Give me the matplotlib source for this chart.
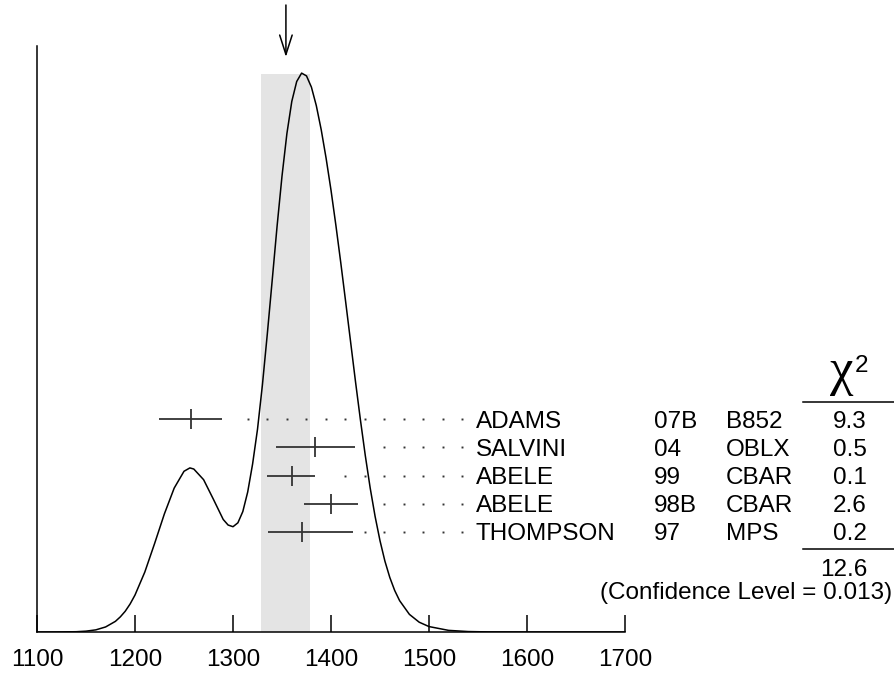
import numpy as np
import matplotlib
matplotlib.use("Agg")
import matplotlib.pyplot as plt
from matplotlib.transforms import blended_transform_factory

# measurements (ideogram rows, top to bottom)
authors = ["ADAMS", "SALVINI", "ABELE", "ABELE", "THOMPSON"]
years = ["07B", "04", "99", "98B", "97"]
techs = ["B852", "OBLX", "CBAR", "CBAR", "MPS"]
values = [1257, 1384, 1360, 1400, 1370]
err_lo = [33, 40, 25, 28, 34]
err_hi = [32, 40, 24, 28, 52]
chi2 = ["9.3", "0.5", "0.1", "2.6", "0.2"]
chi2_total = "12.6"
conf_level = "0.013"
avg, avg_err = 1354, 25

# ideogram curve (peak = 1)
curve_x = [1100, 1120, 1140, 1150, 1160, 1170, 1180, 1185, 1190, 1195,
           1200, 1210, 1220, 1230, 1240, 1250, 1256, 1260, 1270, 1280,
           1290, 1295, 1300, 1305, 1310, 1315, 1320, 1325, 1330, 1335,
           1340, 1345, 1350, 1355, 1360, 1365, 1370, 1375, 1380, 1385,
           1390, 1395, 1400, 1405, 1410, 1415, 1420, 1425, 1430, 1435,
           1440, 1445, 1450, 1455, 1460, 1465, 1470, 1480, 1490, 1500,
           1520, 1540, 1560, 1600, 1700]
curve_y = [0.0, 0.0001, 0.0005, 0.0015, 0.0038, 0.009, 0.019, 0.027, 0.037, 0.050,
           0.066, 0.107, 0.158, 0.211, 0.257, 0.287, 0.293, 0.291, 0.272, 0.237,
           0.201, 0.191, 0.188, 0.195, 0.215, 0.250, 0.300, 0.362, 0.441, 0.532,
           0.628, 0.725, 0.814, 0.890, 0.9475, 0.983, 0.998, 0.993, 0.973, 0.940,
           0.897, 0.846, 0.789, 0.726, 0.659, 0.589, 0.518, 0.447, 0.379, 0.315,
           0.257, 0.2064, 0.163, 0.1266, 0.0974, 0.0741, 0.056, 0.0315, 0.0175, 0.0097,
           0.0029, 0.0008, 0.0002, 0.0, 0.0]

W, H = 895, 673
plt.rcParams["font.family"] = ["Liberation Sans", "DejaVu Sans"]
fs = 17.5
ink = "#333333"

fig = plt.figure(figsize=(W / 100, H / 100), dpi=100)
ax = fig.add_axes([37 / W, 41 / H, 588 / W, 586 / H])
ax.set_xlim(1100, 1700)
ax.set_ylim(0, 1.0464)
ax.axvspan(avg - avg_err, avg + avg_err, ymax=0.952, color="#e4e4e4", lw=0, zorder=0)
ax.plot(curve_x, curve_y, color="black", lw=1.1)
for s in ["top", "right"]:
    ax.spines[s].set_visible(False)
for s in ["left", "bottom"]:
    ax.spines[s].set_linewidth(1.1)
ax.set_xticks(range(1100, 1701, 100))
ax.tick_params(axis="x", direction="in", length=12.2, width=1.1, pad=12, labelsize=fs)
ax.set_yticks([])

# overlay in pixel units for the table
pix = fig.add_axes([0, 0, 1, 1])
pix.set_xlim(0, W)
pix.set_ylim(H, 0)
pix.axis("off")
bt = blended_transform_factory(ax.transData, pix.transData)

row0, dy = 419, 28.25
dot_ref, dot_step = 1534, 19.9
for i in range(len(authors)):
    y = row0 + i * dy
    v = values[i]
    pix.plot([v - err_lo[i], v + err_hi[i]], [y, y], color=ink, lw=1.3,
             solid_capstyle="butt", transform=bt)
    pix.plot([v, v], [y - 10, y + 10], color=ink, lw=1.3,
             solid_capstyle="butt", transform=bt)
    dots = dot_ref - dot_step * np.arange(25)
    dots = dots[dots > v + err_hi[i] + 12]
    pix.plot(dots, [y] * len(dots), "s", ms=1.4, mew=0, color=ink, transform=bt)
    yb = y + 8.5
    pix.text(476, yb, authors[i], fontsize=fs, va="baseline")
    pix.text(654, yb, years[i], fontsize=fs, va="baseline")
    pix.text(726, yb, techs[i], fontsize=fs, va="baseline")
    pix.text(867, yb, chi2[i], fontsize=fs, va="baseline", ha="right")

pix.text(842, 385, "χ", fontsize=38, family="Liberation Serif", ha="center", va="baseline")
pix.text(862, 372, "2", fontsize=fs, ha="center", va="baseline")
pix.plot([803, 895], [401.5, 401.5], color="black", lw=1.1)
pix.plot([803, 895], [549, 549], color="black", lw=1.1)
pix.text(867, 576.5, chi2_total, fontsize=fs, ha="right", va="baseline")
pix.text(892, 599, "(Confidence Level = %s)" % conf_level, fontsize=fs,
         ha="right", va="baseline")

# arrow at the weighted average
pix.annotate("", xy=(avg, 57), xytext=(avg, 5), xycoords=bt, textcoords=bt,
             arrowprops=dict(arrowstyle="->,head_length=1.4,head_width=0.45",
                             lw=1.1, color="black", shrinkA=0, shrinkB=0,
                             mutation_scale=10))

fig.savefig("out.png", dpi=100)
